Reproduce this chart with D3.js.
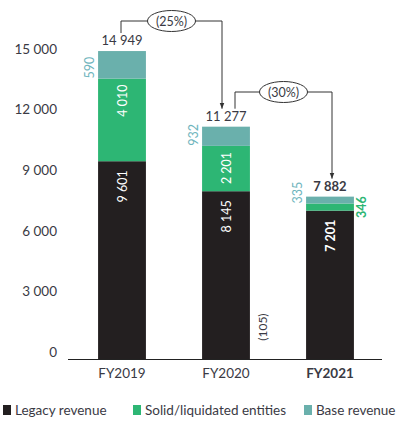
<!DOCTYPE html>
<html>
<head>
<meta charset="utf-8">
<script src="https://cdn.jsdelivr.net/npm/d3@7"></script>
<style>
  body { margin: 0; background: #fff; }
  text { font-family: Lato, "Open Sans", sans-serif; }
</style>
</head>
<body>
<div id="chart"></div>
<script>
// revenue bridge, stacked bars

const width = 397;
const height = 421;

// data
const categories = ["FY2019", "FY2020", "FY2021"];
const legacy = [9601, 8145, 7201];
const solid = [4010, 2201, 346];
const base = [590, 932, 335];
// drawn height of the base segment (FY2019 bar reaches its total, not 590)
const baseBar = [1338, 932, 335];
const totals = [14949, 11277, 7882];
const changes = ["(25%)", "(30%)"];
const adjustment = "(105)";
const yTicks = [0, 3000, 6000, 9000, 12000, 15000];
const seriesNames = ["Legacy revenue", "Solid/liquidated entities", "Base revenue"];

const colors = ["#231f20", "#2db674", "#6ab0ac"];
const textCol = "#3a3a44";
const fmt = v => d3.format(",")(v).replace(/,/g, " ");

const svg = d3.select("#chart").append("svg")
  .attr("width", width)
  .attr("height", height);

const x = d3.scaleBand()
  .domain(categories)
  .range([70, 382])
  .paddingInner(0.54)
  .paddingOuter(0.27);

const y = d3.scaleLinear().domain([0, 15000]).range([359, 50]);
// tick labels sit a bit higher than the bar scale near the bottom
const yLab = y.copy().range([352, 49]);

// y axis labels
svg.append("g")
  .attr("transform", "translate(57,0)")
  .call(d3.axisLeft(yLab).tickValues(yTicks).tickSize(0).tickPadding(0).tickFormat(fmt))
  .call(g => g.select(".domain").remove())
  .selectAll("text")
    .attr("font-size", 13.5)
    .attr("fill", textCol)
    .style("font-family", "Lato, sans-serif");

// stacked data
const rows = categories.map((c, i) => ({cat: c, legacy: legacy[i], solid: solid[i], base: baseBar[i]}));
const stack = d3.stack().keys(["legacy", "solid", "base"])(rows);

svg.selectAll(".layer")
  .data(stack)
  .enter().append("g")
    .attr("fill", (d, k) => colors[k])
  .selectAll("rect")
  .data(d => d)
  .enter().append("rect")
    .attr("x", d => x(d.data.cat))
    .attr("y", d => y(d[1]))
    .attr("width", x.bandwidth())
    .attr("height", d => y(d[0]) - y(d[1]));

// x axis line
svg.append("line")
  .attr("x1", 68).attr("x2", 382)
  .attr("y1", y(0) + 0.5).attr("y2", y(0) + 0.5)
  .attr("stroke", "#222").attr("stroke-width", 1);

svg.selectAll(".cat")
  .data(categories)
  .enter().append("text")
    .attr("x", d => x(d) + x.bandwidth() / 2)
    .attr("y", 378)
    .attr("text-anchor", "middle")
    .attr("font-size", 13.5)
    .attr("font-weight", (d, i) => i === 2 ? "bold" : "normal")
    .attr("fill", textCol)
    .text(d => d);

const cx = i => x(categories[i]) + x.bandwidth() / 2;
const last = categories.length - 1;

function vlabel(px, py, txt, opts) {
  svg.append("text")
    .attr("transform", `translate(${px},${py}) rotate(-90)`)
    .attr("text-anchor", opts.anchor || "middle")
    .attr("dominant-baseline", "central")
    .attr("font-size", opts.size || 12.5)
    .attr("font-weight", opts.bold ? "bold" : "normal")
    .attr("fill", opts.color)
    .text(txt);
}

// labels in legacy segments, hanging from segment top
legacy.forEach((v, i) => {
  vlabel(cx(i), y(v) + 9, fmt(v), {color: "#fff", bold: i === last, anchor: "end"});
});

// labels in solid segments (last one outside on the right)
solid.forEach((v, i) => {
  const top = y(legacy[i] + v), bot = y(legacy[i]);
  if (i === last) {
    vlabel(cx(i) + x.bandwidth() / 2 + 8, (top + bot) / 2, fmt(v), {color: colors[1], bold: true});
  } else {
    vlabel(cx(i), top + 6, fmt(v), {color: "#fff", anchor: "end"});
  }
});

// base labels, outside left of bar
base.forEach((v, i) => {
  const bot = y(legacy[i] + solid[i]);
  vlabel(cx(i) - x.bandwidth() / 2 - 9, bot, fmt(v), {color: "#6fb5bd", anchor: "start"});
});

// totals
totals.forEach((v, i) => {
  svg.append("text")
    .attr("x", cx(i))
    .attr("y", y(v) - 6)
    .attr("text-anchor", "middle")
    .attr("font-size", 13)
    .attr("font-weight", i === last ? "bold" : "normal")
    .attr("fill", textCol)
    .text(fmt(v));
});

// adjustment between FY2020 and FY2021
vlabel((cx(1) + cx(2)) / 2 - 16, y(1550), adjustment, {color: textCol, size: 12});

// arrow head
svg.append("defs").append("marker")
  .attr("id", "arr")
  .attr("viewBox", "0 0 10 10")
  .attr("refX", 10).attr("refY", 5)
  .attr("markerWidth", 6).attr("markerHeight", 6)
  .attr("orient", "auto")
  .append("path").attr("d", "M0,1 L10,5 L0,9 Z").attr("fill", "#333");

// change connectors
changes.forEach((c, i) => {
  const x0 = cx(i) + (i === 0 ? -1 : 9);
  const x1 = cx(i + 1) + (i === 0 ? -4 : 2);
  const yStart = y(totals[i]) - 18;
  const yTop = i === 0 ? 21 : 92;
  const yEnd = y(totals[i + 1]) - 18;
  const mid = (x0 + x1) / 2;
  svg.append("path")
    .attr("d", `M${x0},${yStart} V${yTop} H${x1} V${yEnd}`)
    .attr("fill", "none")
    .attr("stroke", "#333")
    .attr("stroke-width", 1)
    .attr("marker-end", "url(#arr)");
  svg.append("ellipse")
    .attr("cx", mid).attr("cy", yTop)
    .attr("rx", 24).attr("ry", 10.5)
    .attr("fill", "#fff").attr("stroke", "#333").attr("stroke-width", 1);
  svg.append("text")
    .attr("x", mid).attr("y", yTop)
    .attr("text-anchor", "middle")
    .attr("dominant-baseline", "central")
    .attr("font-size", 12.5)
    .attr("fill", textCol)
    .text(c);
});

// legend
const legX = [3, 133, 304];
const leg = svg.selectAll(".leg")
  .data(seriesNames)
  .enter().append("g")
    .attr("transform", (d, i) => `translate(${legX[i]},410)`);
leg.append("rect")
  .attr("x", 0).attr("y", -5)
  .attr("width", 8).attr("height", 10)
  .attr("fill", (d, i) => colors[i]);
leg.append("text")
  .attr("x", 12).attr("y", 0)
  .attr("dominant-baseline", "central")
  .attr("font-size", 13.5)
  .attr("fill", textCol)
  .text(d => d);
</script>
</body>
</html>
